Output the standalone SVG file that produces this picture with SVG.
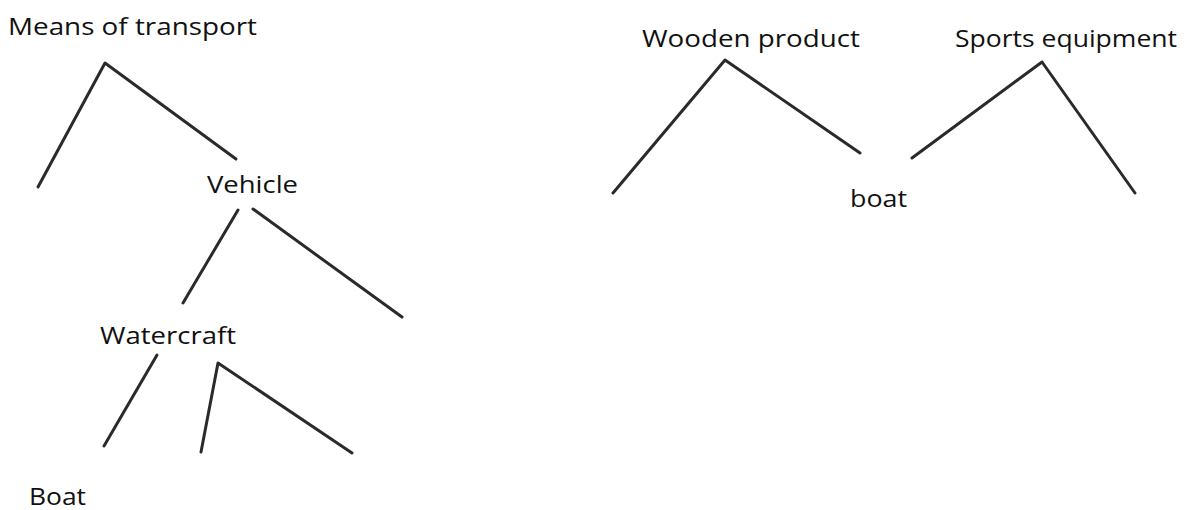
<svg xmlns="http://www.w3.org/2000/svg" width="1196" height="510" viewBox="0 0 1196 510">
<style>
.lbl{font-family:"Open Sans","Noto Sans","Liberation Sans",sans-serif;font-size:23px;fill:#111}
.edge{fill:none;stroke:#2a2a2a;stroke-width:3;stroke-linecap:round;stroke-linejoin:round}
</style>
<rect width="1196" height="510" fill="#fff"/>
<g id="connectors">
<polyline class="edge" points="38,187 105,63 236,159"/>
<line class="edge" x1="238" y1="210" x2="183" y2="303"/>
<line class="edge" x1="253" y1="209" x2="402" y2="317"/>
<line class="edge" x1="157" y1="355" x2="104" y2="446"/>
<polyline class="edge" points="201,452 218,363 352,453"/>
<polyline class="edge" points="613,193 725,60 860,153"/>
<polyline class="edge" points="912,158 1042,62 1135,193"/>
</g>
<g id="node-means"><text class="lbl" x="8" y="35" textLength="249" lengthAdjust="spacingAndGlyphs">Means of transport</text></g>
<g id="node-vehicle"><text class="lbl" x="207" y="193" textLength="91" lengthAdjust="spacingAndGlyphs">Vehicle</text></g>
<g id="node-watercraft"><text class="lbl" x="100" y="344" textLength="136" lengthAdjust="spacingAndGlyphs">Watercraft</text></g>
<g id="node-boat-left"><text class="lbl" x="29" y="505" textLength="57" lengthAdjust="spacingAndGlyphs">Boat</text></g>
<g id="node-wooden"><text class="lbl" x="642" y="47" textLength="218" lengthAdjust="spacingAndGlyphs">Wooden product</text></g>
<g id="node-sports"><text class="lbl" x="955" y="47" textLength="222" lengthAdjust="spacingAndGlyphs">Sports equipment</text></g>
<g id="node-boat-right"><text class="lbl" x="850" y="207" textLength="57" lengthAdjust="spacingAndGlyphs">boat</text></g>
</svg>
